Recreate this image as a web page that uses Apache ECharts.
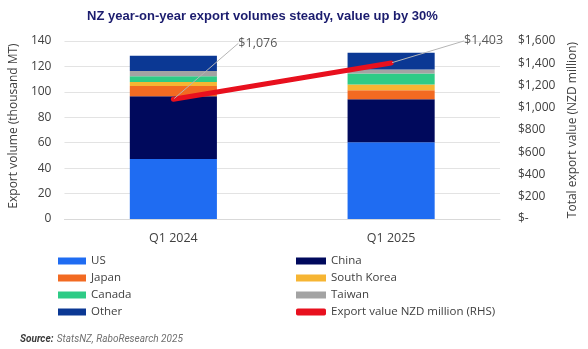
<!DOCTYPE html>
<html>
<head>
<meta charset="utf-8">
<script src="https://cdn.jsdelivr.net/npm/echarts@6/dist/echarts.min.js"></script>
<style>html,body{margin:0;padding:0;background:#fff}#c{width:588px;height:349px}</style>
</head>
<body>
<div id="c"></div>
<script>
const categories = ['Q1 2024', 'Q1 2025'];
const us = [47.2, 60.4];
const china = [49.3, 33.7];
const japan = [8.2, 7.2];
const southKorea = [3.1, 4.5];
const canada = [4.5, 8.7];
const taiwan = [4.2, 3.1];
const other = [11.9, 13.2];
const exportValue = [1076, 1403];

const FONT = '"Open Sans", sans-serif';
const TXT = '#404040';

function barSeries(name, data, color) {
  return { name, type: 'bar', stack: 'vol', data, barCategoryGap: '60%',
    itemStyle: { color }, emphasis: { disabled: true } };
}

const chart = echarts.init(document.getElementById('c'), null, { renderer: 'canvas' });
chart.setOption({
  animation: false,
  textStyle: { fontFamily: FONT },
  title: {
    text: 'NZ year-on-year export volumes steady, value up by 30%',
    left: 82, top: 5,
    textStyle: { fontFamily: '"Liberation Sans", Arial, sans-serif', fontWeight: 'bold', fontSize: 13, color: '#1b1c6e' }
  },
  grid: { left: 63, right: 88, top: 41, bottom: 130 },
  legend: [
    { data: ['US', 'Japan', 'Canada', 'Other'], orient: 'vertical', left: 53, top: 250,
      itemWidth: 28, itemHeight: 7, itemGap: 5, icon: 'rect',
      textStyle: { fontFamily: FONT, fontSize: 11.5, color: TXT } },
    { data: ['China', 'South Korea', 'Taiwan', { name: 'Export value NZD million (RHS)', icon: 'roundRect' }],
      orient: 'vertical', left: 291, top: 250,
      itemWidth: 30, itemHeight: 7, itemGap: 5, icon: 'rect',
      textStyle: { fontFamily: FONT, fontSize: 11.5, color: TXT } }
  ],
  xAxis: {
    type: 'category', data: categories,
    axisLine: { lineStyle: { color: '#d9d9d9' } },
    axisTick: { show: false },
    axisLabel: { color: TXT, fontSize: 12.5, margin: 13, fontFamily: FONT }
  },
  yAxis: [
    { type: 'value', min: 0, max: 140, interval: 20,
      name: 'Export volume (thousand MT)', nameLocation: 'middle', nameGap: 43, nameRotate: 90,
      nameTextStyle: { color: TXT, fontSize: 12, fontFamily: FONT, padding: [0, 0, 0, 8] },
      axisLine: { show: false }, axisTick: { show: false },
      axisLabel: { color: TXT, fontSize: 12, margin: 13, fontFamily: FONT },
      splitLine: { lineStyle: { color: '#e3e3e3' } } },
    { type: 'value', min: 0, max: 1600, interval: 200, position: 'right',
      name: 'Total export value (NZD million)', nameLocation: 'middle', nameGap: 66, nameRotate: 90,
      nameTextStyle: { color: TXT, fontSize: 12, fontFamily: FONT },
      axisLine: { show: false }, axisTick: { show: false },
      splitLine: { show: false },
      axisLabel: { color: TXT, fontSize: 12, margin: 18, align: 'left', fontFamily: FONT,
        formatter: v => v === 0 ? '$-' : '$' + v.toLocaleString('en-US') } }
  ],
  series: [
    barSeries('US', us, '#1f6cf2'),
    barSeries('China', china, '#00095c'),
    barSeries('Japan', japan, '#f26a22'),
    barSeries('South Korea', southKorea, '#f6b533'),
    barSeries('Canada', canada, '#2ecb86'),
    barSeries('Taiwan', taiwan, '#a3a3a3'),
    barSeries('Other', other, '#0b3894'),
    { name: 'Export value NZD million (RHS)', type: 'line', yAxisIndex: 1, data: exportValue,
      symbol: 'circle', symbolSize: 2, showSymbol: true,
      itemStyle: { color: '#e8101e' },
      lineStyle: { color: '#e8101e', width: 5, cap: 'round' },
      emphasis: { disabled: true },
      label: { show: true, position: 'right', distance: 5, color: '#595959', fontSize: 12.5, fontFamily: FONT,
        formatter: p => '$' + p.value.toLocaleString('en-US') },
      labelLayout: p => p.dataIndex === 0 ? { dx: 59, dy: -56 } : { dx: 67, dy: -22 },
      labelLine: { show: true, lineStyle: { color: '#b5b5b5', width: 1 } }
    }
  ],
  graphic: [
    { type: 'text', left: 20, top: 333,
      style: { text: '{b|Source:} {n|StatsNZ, RaboResearch 2025}',
        rich: { b: { fontFamily: 'Roboto, sans-serif', fontStyle: 'italic', fontWeight: 'bold', fontSize: 10, fill: '#3a3a3a' },
                n: { fontFamily: 'Roboto, sans-serif', fontStyle: 'italic', fontSize: 10, fill: '#707070' } } } }
  ]
});
</script>
</body>
</html>
